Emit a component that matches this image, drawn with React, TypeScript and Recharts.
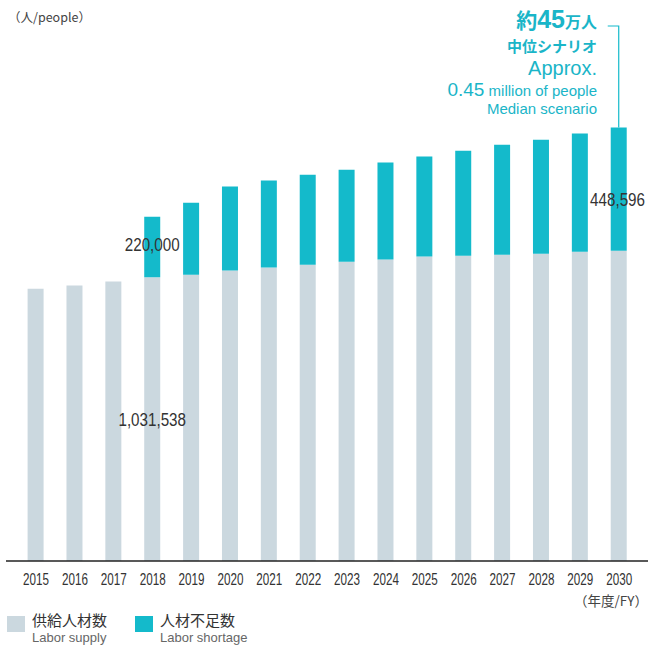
import React from 'react';
import { BarChart, Bar, XAxis, YAxis, LabelList } from 'recharts';

const years = ['2015', '2016', '2017', '2018', '2019', '2020', '2021', '2022', '2023', '2024', '2025', '2026', '2027', '2028', '2029', '2030'];
const laborSupply = [990000, 1002000, 1016000, 1031538, 1041000, 1056000, 1067000, 1077000, 1088000, 1096000, 1107000, 1110000, 1114000, 1117000, 1125000, 1128000];
const laborShortage = [0, 0, 0, 220000, 262000, 306000, 317000, 328000, 335000, 353000, 364000, 382000, 400000, 415000, 430000, 448596];
const supplyLabelYears = ['2018'];
const shortageLabelYears = ['2018', '2030'];

const data = years.map((year, i) => ({ year, supply: laborSupply[i], shortage: laborShortage[i] }));

const W = 648;
const GREY = '#cbd8df';
const TEAL = '#14bacb';
const TEAL_TEXT = '#1ab5c8';
const SANS = "'Liberation Sans', Arial, sans-serif";
const JP = "'Noto Sans CJK JP', sans-serif";

// small vertical nudges for the value labels (px), keyed by year
const shortageLabelNudge: Record<string, number> = { '2018': -3, '2030': 10 };

const fmt = (v: number) => v.toLocaleString('en-US');
// Liberation Sans digits are 0.556em wide; squeeze horizontally for a condensed look
const NARROW = 0.8;

const makeLabel = (values: number[], showYears: string[], nudge: Record<string, number> = {}, leader?: number) => {
  const shown = showYears.map((y) => values[years.indexOf(y)]);
  return (props: any) => {
    const { x, y, width, height, value } = props;
    if (!shown.includes(value)) return null;
    const year = years[values.indexOf(value)];
    const cx = x + width / 2;
    const s = fmt(value);
    const fs = 19;
    const len = s.split('').reduce((w, c) => w + (c === ',' ? 0.278 : 0.556) * fs, 0) * NARROW;
    // keep the text inside the canvas
    const tx = Math.min(cx, W - 3 - len / 2);
    const ty = y + height / 2 + (nudge[year] || 0);
    return (
      <g>
        {leader === value && (
          <polyline points={`${cx},${y} ${cx},26 ${cx - 11},26`} fill="none" stroke={TEAL} strokeWidth={1.2} />
        )}
        <text
          transform={`translate(${tx},${ty}) scale(${NARROW},1)`}
          textAnchor="middle"
          dominantBaseline="central"
          fontFamily={SANS}
          fontSize={fs}
          fill="#333"
        >
          {s}
        </text>
      </g>
    );
  };
};

const YearTick = (props: any) => {
  const { x, y, payload } = props;
  return (
    <text
      transform={`translate(${x},${y + 17.5}) scale(0.73,1)`}
      textAnchor="middle"
      fontFamily={SANS}
      fontSize={16}
      fill="#333"
    >
      {payload.value}
    </text>
  );
};

const LegendItem = ({ color, jp, en, left }: { color: string; jp: string; en: string; left: number }) => (
  <div style={{ position: 'absolute', left, top: 0, display: 'flex', alignItems: 'flex-start' }}>
    <div style={{ width: 18, height: 16, background: color, marginTop: 6, marginRight: 7 }} />
    <div>
      <div style={{ fontFamily: JP, fontSize: 15, color: '#333', lineHeight: '20px', whiteSpace: 'nowrap' }}>{jp}</div>
      <div style={{ fontFamily: SANS, fontSize: 13, color: '#666', lineHeight: '16px', whiteSpace: 'nowrap' }}>{en}</div>
    </div>
  </div>
);

export default function App() {
  return (
    <div style={{ position: 'absolute', left: 0, top: 0, width: W, height: 646, background: '#fff' }}>
      <BarChart width={W} height={646} data={data} margin={{ top: 121, right: 0, bottom: 55, left: 6 }} barSize={16}>
        <XAxis
          dataKey="year"
          height={30}
          padding={{ left: 10.6, right: 9.4 }}
          tickLine={false}
          axisLine={{ stroke: '#222', strokeWidth: 1.5 }}
          tick={<YearTick />}
          tickMargin={0}
          interval={0}
        />
        <YAxis hide domain={[0, 1600000]} />
        <Bar dataKey="supply" stackId="a" fill={GREY} isAnimationActive={false}>
          <LabelList dataKey="supply" content={makeLabel(laborSupply, supplyLabelYears)} />
        </Bar>
        <Bar dataKey="shortage" stackId="a" fill={TEAL} isAnimationActive={false}>
          <LabelList
            dataKey="shortage"
            content={makeLabel(laborShortage, shortageLabelYears, shortageLabelNudge, laborShortage[laborShortage.length - 1])}
          />
        </Bar>
      </BarChart>

      <div style={{ position: 'absolute', left: 8, top: 7, fontFamily: JP, fontSize: 12.5, color: '#444' }}>（人/people）</div>

      <div style={{ position: 'absolute', right: 51, top: 4, textAlign: 'right', color: TEAL_TEXT }}>
        <div style={{ fontFamily: JP, fontWeight: 700, lineHeight: '30px', whiteSpace: 'nowrap' }}>
          <span style={{ fontSize: 21 }}>約</span>
          <span style={{ fontSize: 25, fontFamily: SANS }}>45</span>
          <span style={{ fontSize: 16 }}>万人</span>
        </div>
        <div style={{ fontFamily: JP, fontWeight: 700, fontSize: 15, lineHeight: '20px' }}>中位シナリオ</div>
        <div style={{ fontFamily: SANS, fontSize: 20, lineHeight: '24px' }}>Approx.</div>
        <div style={{ fontFamily: SANS, lineHeight: '19px', whiteSpace: 'nowrap' }}>
          <span style={{ fontSize: 19 }}>0.45</span>
          <span style={{ fontSize: 15 }}> million of people</span>
        </div>
        <div style={{ fontFamily: SANS, fontSize: 15, lineHeight: '18px' }}>Median scenario</div>
      </div>

      <div style={{ position: 'absolute', right: 0, top: 590, fontFamily: JP, fontSize: 13.5, color: '#444' }}>（年度/FY）</div>

      <div style={{ position: 'absolute', left: 7, top: 610, width: 400, height: 36 }}>
        <LegendItem left={0} color={GREY} jp="供給人材数" en="Labor supply" />
        <LegendItem left={128} color={TEAL} jp="人材不足数" en="Labor shortage" />
      </div>
    </div>
  );
}
